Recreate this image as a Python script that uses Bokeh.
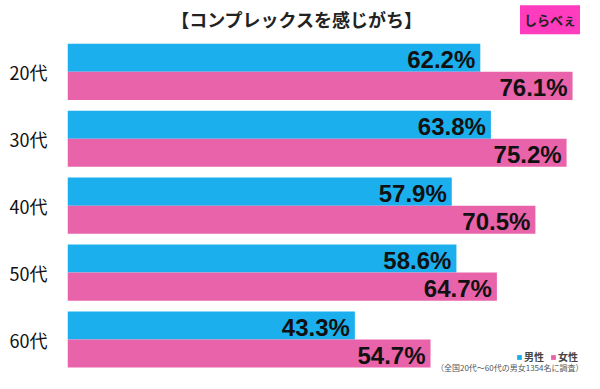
from bokeh.plotting import figure
from bokeh.models import ColumnDataSource, Range1d, Label, Legend, LegendItem, FixedTicker
from bokeh.transform import dodge
from bokeh.embed import file_html
from bokeh.resources import INLINE
from bokeh.core.properties import value

ages = ["20代", "30代", "40代", "50代", "60代"]
male = [62.2, 63.8, 57.9, 58.6, 43.3]
female = [76.1, 75.2, 70.5, 64.7, 54.7]
series = ["男性", "女性"]
chart_title = "【コンプレックスを感じがち】"
note = "（全国20代～60代の男女1354名に調査）"
brand = "しらべぇ"

BLUE = "#1BAFEE"
PINK = "#E963AB"
JP = "Noto Sans CJK JP"
XMAX = 77.9
N = len(ages)
pos = [N - 1 - i for i in range(N)]  # 20代 at top

src = ColumnDataSource(dict(
    pos=pos, male=male, female=female,
    male_lbl=[f"{v:.1f}%" for v in male],
    female_lbl=[f"{v:.1f}%" for v in female],
))

p = figure(width=584, height=373, output_backend="svg", toolbar_location=None,
           y_range=Range1d(-0.508, N - 1 + 1.066),
           x_range=Range1d(0, XMAX),
           min_border_left=67, min_border_right=0, min_border_top=0, min_border_bottom=0)

p.outline_line_color = None
p.grid.visible = False
p.xaxis.visible = False
p.yaxis.ticker = FixedTicker(ticks=pos)
p.yaxis.major_label_overrides = {k: a for k, a in zip(pos, ages)}
p.yaxis.axis_line_color = None
p.yaxis.major_tick_line_color = None
p.yaxis.minor_tick_line_color = None
p.yaxis.major_label_text_font = JP
p.yaxis.major_label_text_font_size = "18px"
p.yaxis.major_label_text_color = "#111111"
p.yaxis.major_label_standoff = 14

H = 0.42
rm = p.hbar(y=dodge("pos", H / 2), right="male", left=0, height=H,
            color=BLUE, line_color=None, source=src)
rf = p.hbar(y=dodge("pos", -H / 2), right="female", left=0, height=H,
            color=PINK, line_color=None, source=src)

for col, off in (("male", H / 2), ("female", -H / 2)):
    p.text(x=col, y=dodge("pos", off), text=col + "_lbl", source=src,
           text_align="right", text_baseline="middle", x_offset=-5, y_offset=2,
           text_font=value("Liberation Sans"), text_font_style="bold",
           text_font_size="24px", text_color="#111111")

legend = Legend(items=[LegendItem(label=series[0], renderers=[rm]),
                       LegendItem(label=series[1], renderers=[rf])],
                location=(449, 9), orientation="horizontal",
                glyph_width=6, glyph_height=6, label_text_font=JP,
                label_text_font_size="10px", label_text_font_style="bold",
                label_standoff=2, spacing=6, padding=0, margin=0,
                border_line_color=None, background_fill_alpha=0)
p.add_layout(legend)

# chart title
p.add_layout(Label(x=34.6, y=N - 1 + 0.797, text=chart_title, text_align="center",
                   text_baseline="middle", text_font=JP, text_font_size="18px",
                   text_font_style="bold", text_color="#222222"))

# footnote
p.add_layout(Label(x=XMAX, y=-0.508, text=note, text_align="right", text_baseline="bottom",
                   x_offset=-1, y_offset=1, text_font=JP, text_font_size="8px",
                   text_color="#555555"))

# brand logo
p.add_layout(Label(x=72.7, y=N - 1 + 0.78, text=brand,
                   text_align="center", text_baseline="middle", text_font=JP,
                   text_font_size="13px", text_font_style="bold", text_color="#222222",
                   background_fill_color="#FF3CBE", padding=(4, 5)))

open("out.html", "w").write(file_html(p, INLINE))
